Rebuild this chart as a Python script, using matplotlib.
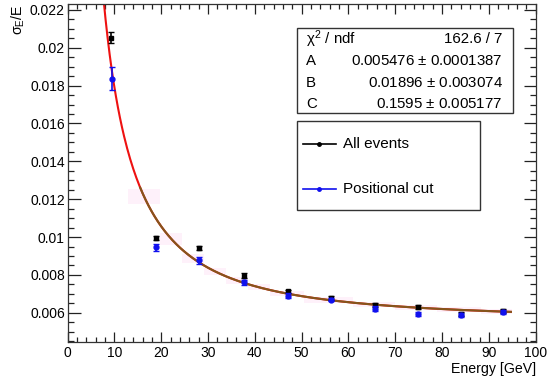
"""energy resolution vs beam energy with fit
"""
import numpy as np
import matplotlib.pyplot as plt
from matplotlib.ticker import MultipleLocator

plt.rcParams['font.family'] = ['Liberation Sans', 'DejaVu Sans']
plt.rcParams['mathtext.fontset'] = 'custom'
plt.rcParams['mathtext.rm'] = 'Liberation Sans'
plt.rcParams['mathtext.it'] = 'Liberation Sans'

# measured points
energy_all = [9.2, 18.8, 28.1, 37.6, 47.0, 56.3, 65.7, 74.8, 84.1, 93.1]
res_all = [0.02054, 0.00995, 0.00942, 0.00796, 0.00713, 0.00679, 0.00643, 0.00631, 0.00592, 0.00608]
err_all = [0.0003, 0.00012, 0.00012, 0.00012, 0.0001, 0.0001, 0.0001, 0.0001, 0.0001, 0.0001]

energy_cut = [9.4, 18.8, 28.1, 37.6, 47.0, 56.3, 65.7, 74.8, 84.1, 93.1]
res_cut = [0.01836, 0.00946, 0.00877, 0.00761, 0.00691, 0.0067, 0.00622, 0.00594, 0.00589, 0.00603]
err_cut = [0.0006, 0.0002, 0.0002, 0.00012, 0.00015, 0.0001, 0.00012, 0.0001, 0.0001, 0.0001]

# fit parameters from the stats box
fitA, fitB, fitC = 0.005476, 0.01896, 0.1595
stats_rows = [('$\\chi^2$ / ndf', '162.6 / 7'),
              ('A', '0.005476 $\\pm$ 0.0001387'),
              ('B', '0.01896 $\\pm$ 0.003074'),
              ('C', '0.1595 $\\pm$ 0.005177')]

# confidence band bins (edges) and half heights
band_edges = [12.9, 19.8, 24.5, 29.2, 33.9, 38.6, 43.3, 50.4, 61.0, 70.0, 79.0, 88.3, 95.0]
band_half = [0.0004, 0.0003, 0.00025, 0.0002, 0.00018, 0.00016, 0.00015, 0.00014,
             0.00013, 0.00013, 0.00013, 0.00013]


def resolution(e):
    e = np.asarray(e, dtype=float)
    return np.sqrt(fitA**2 + fitB**2 / e + fitC**2 / e**2)


fig = plt.figure(figsize=(5.5, 3.8), dpi=100)
ax = fig.add_axes([0.123, 0.1, 0.851, 0.889])

# faint pink confidence band
for i in range(len(band_half)):
    lo, hi = band_edges[i], band_edges[i + 1]
    mid = resolution(0.5 * (lo + hi))
    ax.fill_between([lo, hi], mid - band_half[i], mid + band_half[i],
                    color='#fef1fa', lw=0, zorder=1)

e_red = np.linspace(7.0, 94.7, 400)
ax.plot(e_red, resolution(e_red), color='#ee1111', lw=1.5, zorder=2)
e_brown = np.linspace(15.5, 94.7, 400)
ax.plot(e_brown, resolution(e_brown), color='#84561c', lw=1.5, zorder=3)

ax.errorbar(energy_all, res_all, yerr=err_all, fmt='s', color='black', ms=3,
            elinewidth=1.2, capsize=2, capthick=1, zorder=4)
ax.errorbar(energy_cut, res_cut, yerr=err_cut, fmt='o', color='#1010ee', ms=3.5,
            elinewidth=1.2, capsize=2, capthick=1, zorder=5)

ax.set_xlim(0, 100)
ax.set_ylim(0.00446, 0.0223)
ax.xaxis.set_major_locator(MultipleLocator(10))
ax.xaxis.set_minor_locator(MultipleLocator(2))
ax.yaxis.set_minor_locator(MultipleLocator(0.0005))
ax.set_yticks(np.arange(0.006, 0.0225, 0.002))
ax.set_yticklabels(['0.006', '0.008', '0.01', '0.012', '0.014', '0.016', '0.018', '0.02', '0.022'])
ax.tick_params(which='both', direction='in', top=True, right=True, labelsize=10,
               color='#222222', labelcolor='black', width=0.9)
ax.tick_params(axis='y', which='major', length=9, pad=2)
ax.tick_params(axis='y', which='minor', length=4.5)
ax.tick_params(axis='x', which='major', length=7, pad=3)
ax.tick_params(axis='x', which='minor', length=3.5)
for s in ax.spines.values():
    s.set_linewidth(0.9)
    s.set_color('#333333')

ax.set_xlabel('Energy [GeV]', fontsize=10.2, loc='right', labelpad=1)
ax.set_ylabel('$\\sigma_E$/E', fontsize=10.2, loc='top', labelpad=2)

# stats box
box = plt.Rectangle((0.489, 0.677), 0.463, 0.252, transform=ax.transAxes,
                    facecolor='white', edgecolor='#333333', lw=1, zorder=6)
ax.add_patch(box)
for (name, val), y in zip(stats_rows, [0.896, 0.832, 0.768, 0.704]):
    ax.text(0.509, y, name, transform=ax.transAxes, fontsize=10.8,
            ha='left', va='center', zorder=7)
    ax.text(0.929, y, val, transform=ax.transAxes, fontsize=10.8,
            ha='right', va='center', zorder=7)

# legend box drawn by hand, ROOT style
lbox = plt.Rectangle((0.491, 0.391), 0.389, 0.263, transform=ax.transAxes,
                     facecolor='white', edgecolor='#333333', lw=1, zorder=6)
ax.add_patch(lbox)
for label, col, y in [('All events', 'black', 0.585), ('Positional cut', '#1010ee', 0.452)]:
    ax.plot([0.503, 0.573], [y, y], transform=ax.transAxes, color=col, lw=1.2, zorder=7)
    ax.plot([0.538], [y], transform=ax.transAxes, color=col, marker='o', ms=2.5, zorder=8)
    ax.text(0.588, y, label, transform=ax.transAxes, fontsize=11,
            ha='left', va='center', zorder=8)

fig.savefig('out.png', dpi=100)
